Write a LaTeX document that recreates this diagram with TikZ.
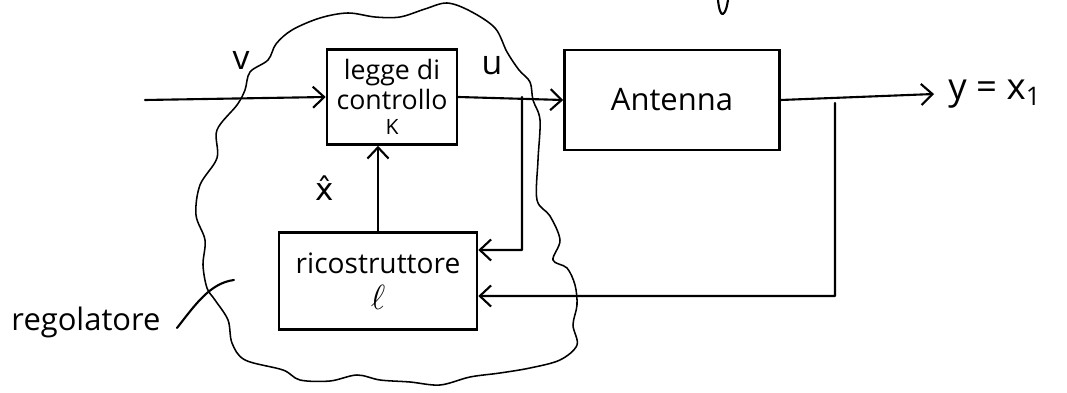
\documentclass[tikz,border=0pt]{standalone}
\usepackage{fontspec}
\setmainfont{Open Sans}
\newfontfamily\accentfont{DejaVu Sans}
\usetikzlibrary{arrows.meta,calc}

\begin{document}
\begin{tikzpicture}[x=0.025cm,y=-0.025cm,
  blk/.style={draw, line width=1.8pt, inner sep=0pt, align=center},
  wire/.style={line width=1.5pt, line cap=round, line join=round},
  arr/.style={wire, -{Straight Barb[length=8pt,width=15pt,line width=1.5pt]}},
  lbl/.style={inner sep=0pt},
  cloudline/.style={line width=1.1pt, line join=round}]
\useasboundingbox (0,0) rectangle (1067,393);

% blocks
\node[blk, minimum width=3.25cm, minimum height=2.375cm,
      font=\fontsize{19}{21}\selectfont] (legge) at (392,97)
      {legge di\\controllo\\[-3pt]{\fontsize{15}{15}\selectfont K}};
\node[blk, minimum width=5.375cm, minimum height=2.5cm,
      font=\fontsize{22}{26}\selectfont] (ant) at (672,100) {Antenna};
\node[blk, minimum width=4.95cm, minimum height=2.425cm,
      font=\fontsize{20}{26}\selectfont] (ric) at (378,281)
      {ricostruttore\\{\fontsize{24}{24}\selectfont$\ell$}};

% labels
\node[lbl, font=\fontsize{24}{24}\selectfont] (v) at (241,60) {v};
\node[lbl, font=\fontsize{24}{24}\selectfont] (u) at (492,66) {u};
\node[lbl, font=\fontsize{22}{22}\accentfont] (xh) at (325,188) {x̂};
\node[lbl, anchor=west, font=\fontsize{26}{26}\selectfont] (yl) at (948,94)
      {y = x\textsubscript{1}};
\node[lbl, font=\fontsize{22}{22}\selectfont] (reg) at (86,322) {regolatore};

% free ends and branch points
\coordinate (in) at (145,100);
\coordinate (ub) at (522,97);
\coordinate (yb) at (835,103);

% signal paths
\draw[arr] (in) -- (legge.west);
\draw[arr] (legge.east) -- (ant.west);
\draw[arr] (ant.east) -- ([xshift=-0.35cm]yl.west);
\draw[arr] (ub) -- (ub |- 0,250) -- ([yshift=0.775cm]ric.east);
\draw[arr] (yb) -- (yb |- 0,296) -- ([yshift=-0.375cm]ric.east);
\draw[arr] (ric.north) -- (ric.north |- legge.south);

% boundary of the regulator
\draw[cloudline] plot[smooth cycle, tension=0.55] coordinates {
  (245,90) (250,72) (268,60) (276,44) (292,30) (320,18) (348,13)
  (375,17) (400,17) (425,9) (447,3) (470,11) (495,28) (507,52)
  (519,70) (530,82) (533,100) (540,120) (538,160) (537,200)
  (550,216) (560,240) (553,260) (567,268) (575,285) (577,305)
  (573,325) (577,345) (560,360) (530,368) (500,373) (470,377)
  (440,385) (410,382) (380,380) (357,375) (330,381) (300,380)
  (283,370) (245,360) (232,343) (228,320) (215,300) (207,288)
  (203,265) (205,240) (196,215) (200,185) (217,158) (217,130)
  (237,105)};

% pointer from the label to the boundary
\coordinate (p0) at (177,328);
\coordinate (p1) at (234,280);
\draw[wire] (p0) .. controls (195,305) and (210,283) .. (p1);

% stroke at the top edge
\draw[wire] (718,0) .. controls (719,10) and (721,15) .. (723,14)
            .. controls (726,12) and (727,6) .. (728,0);
\end{tikzpicture}
\end{document}
